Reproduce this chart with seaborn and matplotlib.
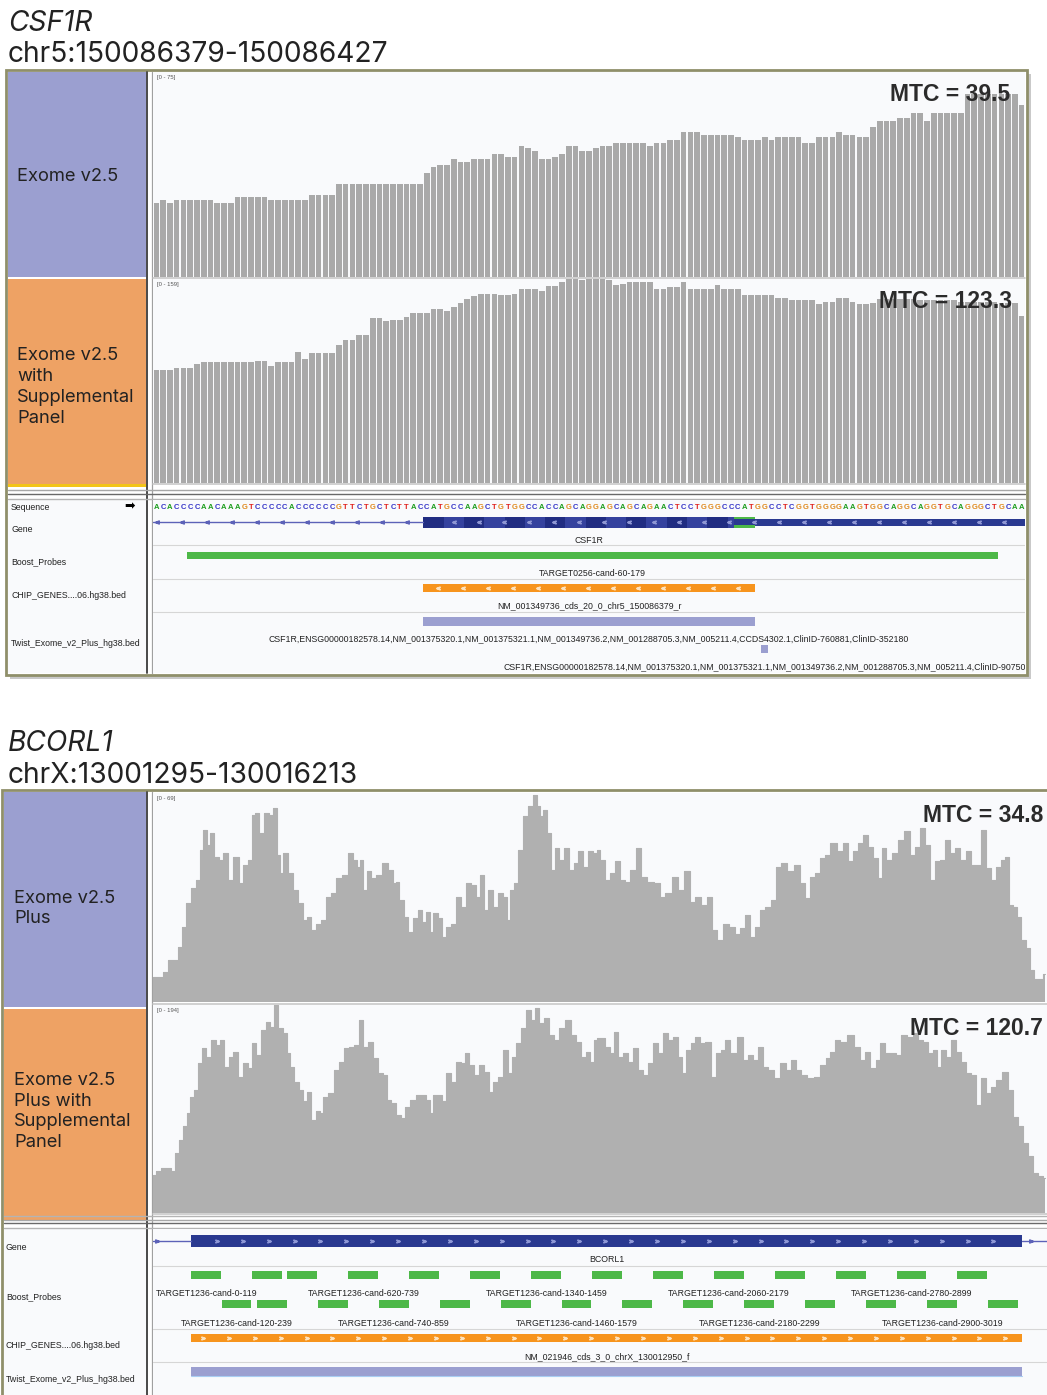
import numpy as np
import pandas as pd
import matplotlib
matplotlib.use("Agg")
import matplotlib.pyplot as plt
import matplotlib.font_manager as fm
from matplotlib.patches import Rectangle
import seaborn as sns

# ------------------------------------------------------------------ data
csf1r_title = "CSF1R"
csf1r_locus = "chr5:150086379-150086427"
csf1r_sequence = ("ACACCCCAACAAAGTCCCCCACCCCCCGTTCTGCTCTTACCATGCCAAGCTGTG"
                  "GCCACCAGCAGGAGCAGCAGAACTCCTGGGCCCATGGCCTCGGTGGGGAAGTGGCAGGCAGGTGCAGGGCTGCAA")
csf1r_exome = ([27, 28, 27] + [28] * 6 + [27] * 3 + [29] * 5 + [28] * 6 + [30] * 4 + [34] * 13 +
               [38, 40, 41, 41, 43, 42, 42, 43, 43, 43, 45, 45, 44, 44, 48, 47, 46, 43, 43, 44,
                45, 48, 48, 46, 46, 47, 48, 48] +
               [49] * 5 + [48, 49, 49, 50, 50] + [53] * 3 + [52] + [52] * 4 + [51] + [50] * 3 +
               [51, 50] + [51] * 4 + [49] * 2 + [51] * 3 + [53] + [52] * 2 + [51] * 2 + [55] +
               [57] * 3 + [58] * 2 + [60] * 2 + [57] + [60] * 5 + [67] * 8 + [63])
csf1r_exome_supp = ([88] * 3 + [89] * 3 + [92] + [94] * 8 + [95] * 2 + [91] + [94] * 3 + [102, 96] +
                    [101] * 4 + [107] + [111] * 2 + [115] * 2 + [128] * 2 + [126] + [127] * 2 + [129] +
                    [132] * 3 + [135] * 2 + [134, 137, 140, 143, 145] + [147] * 3 + [146] * 2 + [147] +
                    [151] * 3 + [149] + [153] * 2 + [156] + [159] * 2 + [158] + [159] * 3 + [158, 154, 155] +
                    [156] * 4 + [151] * 2 + [152] * 2 + [156] + [151] * 4 + [154] + [151] * 3 + [146] * 5 +
                    [144] * 2 + [142] * 4 + [139] + [141] * 2 + [144] * 2 + [141] + [139] * 2 + [140] +
                    [143] * 6 + [142] * 6 + [141] * 6 + [140] * 3 + [130])
csf1r_ymax = [75, 159]
csf1r_ranges = ["[0 - 75]", "[0 - 159]"]
csf1r_mtc = ["MTC = 39.5", "MTC = 123.3"]
csf1r_gene_name = "CSF1R"
csf1r_gene_intron = [0, 39]        # base indices in view
csf1r_gene_cds = [40, 88]
csf1r_gene_green = [86, 88]
csf1r_gene_utr = [89, 128]
csf1r_probe = [5, 124]
csf1r_probe_name = "TARGET0256-cand-60-179"
csf1r_chip = [40, 88]
csf1r_chip_name = "NM_001349736_cds_20_0_chr5_150086379_r"
csf1r_twist = [40, 88]
csf1r_twist_name = ("CSF1R,ENSG00000182578.14,NM_001375320.1,NM_001375321.1,NM_001349736.2,"
                    "NM_001288705.3,NM_005211.4,CCDS4302.1,ClinID-760881,ClinID-352180")
csf1r_twist2 = [90, 90]
csf1r_twist2_name = ("CSF1R,ENSG00000182578.14,NM_001375320.1,NM_001375321.1,NM_001349736.2,"
                     "NM_001288705.3,NM_005211.4,ClinID-90750")

bcorl1_title = "BCORL1"
bcorl1_locus = "chrX:13001295-130016213"
bcorl1_top_bins = [10, 30, 45, 60, 80, 90, 100, 115, 130, 145, 155, 165, 175, 185, 200, 215, 225, 240, 260, 275,
                   285, 300, 310, 320, 335, 350, 365, 375, 385, 395, 405, 420, 435, 450, 465, 475, 490, 505, 520, 535,
                   550, 565, 585, 600, 615, 625, 635, 645, 655, 670, 685, 705, 720, 735, 740, 755, 770, 780, 795, 810,
                   820, 835, 845, 855, 870, 880, 895, 910, 925, 940, 955, 970, 985, 995, 1010, 1020, 1035, 1050, 1065, 1075,
                   1085, 1100, 1110, 1125, 1140, 1155, 1165, 1175, 1185, 1195, 1210, 1220, 1235, 1250, 1265, 1280, 1290, 1305, 1320, 1340,
                   1341, 1356, 1371, 1386, 1401, 1416, 1431, 1451, 1466, 1481, 1501, 1521, 1536, 1556, 1576, 1591, 1611, 1626, 1646, 1661,
                   1681, 1691, 1711, 1726, 1746, 1761, 1776, 1791, 1806, 1821, 1836, 1856, 1871, 1886, 1901, 1921, 1941, 1956, 1971, 1986,
                   2001, 2016, 2031, 2051, 2071, 2086, 2101, 2116, 2131, 2146, 2161, 2176, 2191, 2201, 2216, 2236, 2251, 2271, 2286, 2301,
                   2316, 2331, 2346, 2361, 2381, 2391, 2406, 2421, 2441, 2456, 2471, 2486, 2501, 2516, 2531, 2546, 2561, 2571, 2581, 2596,
                   2606, 2621, 2636, 2646, 2656, 2671, 2686]
bcorl1_top = [8.3, 8.3, 9.9, 13.8, 13.8, 18.2, 24.8, 32.6, 37.5, 40.3, 50.2, 56.9, 51.9, 55.8, 48.0, 46.9, 49.1, 40.3, 48.0, 39.2,
              45.3, 46.9, 61.8, 62.4, 55.8, 62.4, 61.8, 64.0, 48.6, 42.5, 49.1, 42.5, 37.0, 32.6, 27.0, 28.2, 23.7, 25.9, 27.0, 34.8,
              35.9, 40.8, 42.0, 49.1, 46.9, 44.7, 46.9, 37.0, 43.1, 40.8, 42.0, 45.8, 43.6, 39.2, 39.7, 33.7, 28.2, 23.2, 27.6, 30.4,
              26.5, 29.8, 23.2, 29.3, 27.6, 21.5, 24.8, 25.9, 34.8, 31.5, 39.2, 38.6, 34.8, 42.0, 30.4, 37.0, 31.5, 35.9, 34.8, 27.0,
              37.0, 39.2, 50.2, 61.3, 64.6, 68.5, 64.6, 61.3, 63.5, 55.8, 43.6, 50.8, 46.9, 50.8, 43.6, 45.8, 49.7, 44.7, 49.7, 49.1,
              50.2, 46.9, 40.3, 42.5, 46.4, 40.3, 39.7, 43.6, 50.8, 41.4, 39.7, 39.2, 34.8, 35.9, 41.4, 37.0, 43.1, 33.1, 34.8, 32.0,
              34.8, 23.7, 20.4, 25.9, 24.8, 22.6, 24.3, 28.7, 21.5, 24.8, 30.4, 31.5, 33.7, 44.7, 45.8, 43.1, 45.3, 39.2, 34.2, 41.4,
              42.5, 47.5, 48.6, 52.4, 49.7, 52.4, 46.4, 49.7, 52.4, 55.2, 51.3, 47.5, 40.8, 50.8, 46.9, 49.1, 53.5, 56.3, 48.6, 51.3,
              57.4, 51.9, 40.3, 46.4, 46.9, 53.5, 49.1, 50.8, 46.9, 49.7, 45.3, 45.3, 56.9, 44.2, 40.3, 44.7, 46.9, 48.0, 32.0, 31.5,
              28.2, 20.4, 17.7, 10.5, 7.7, 7.7, 9.4]
bcorl1_bot_bins = [10, 25, 40, 55, 70, 80, 95, 105, 115, 125, 140, 150, 160, 175, 190, 205, 215, 230, 245, 255,
                   270, 285, 300, 310, 325, 340, 355, 365, 380, 390, 405, 415, 425, 440, 455, 465, 475, 490, 505, 515,
                   525, 545, 560, 575, 590, 605, 620, 635, 645, 660, 675, 690, 705, 715, 730, 745, 760, 770, 790, 805,
                   820, 835, 845, 855, 870, 880, 895, 910, 925, 940, 950, 965, 980, 995, 1010, 1025, 1035, 1050, 1065, 1080,
                   1090, 1105, 1120, 1135, 1150, 1160, 1175, 1190, 1205, 1220, 1235, 1255, 1270, 1285, 1300, 1315, 1325, 1340,
                   1341, 1356, 1371, 1386, 1396, 1411, 1426, 1441, 1456, 1471, 1486, 1501, 1516, 1531, 1546, 1561, 1576, 1591, 1601, 1616,
                   1631, 1641, 1656, 1676, 1691, 1706, 1721, 1731, 1751, 1771, 1786, 1801, 1816, 1831, 1846, 1861, 1881, 1901, 1916, 1931,
                   1946, 1961, 1981, 2001, 2021, 2036, 2046, 2061, 2081, 2101, 2121, 2136, 2151, 2171, 2186, 2196, 2216, 2231, 2246, 2261,
                   2281, 2296, 2311, 2326, 2341, 2356, 2366, 2381, 2396, 2411, 2426, 2441, 2456, 2471, 2486, 2501, 2516, 2531, 2546, 2566,
                   2581, 2596, 2611, 2626, 2641, 2656, 2671, 2686]
bcorl1_bot = [35.7, 38.8, 41.9, 41.9, 38.8, 55.9, 68.3, 80.7, 93.1, 108.6, 114.8, 139.7, 153.6, 145.9, 161.4, 156.8, 161.4, 136.6, 145.9, 150.5,
              127.3, 139.7, 135.0, 158.3, 147.4, 170.7, 178.5, 173.8, 194.0, 172.3, 167.6, 149.0, 136.6, 122.6, 114.8, 104.0, 113.3, 86.9, 94.7, 93.1,
              108.6, 111.7, 133.5, 141.2, 153.6, 155.2, 156.8, 180.0, 155.2, 159.9, 144.3, 130.4, 128.8, 105.5, 102.4, 91.6, 88.5, 99.3, 105.5, 110.2,
              110.2, 105.5, 93.1, 110.2, 110.2, 104.0, 130.4, 122.6, 141.2, 139.7, 149.0, 138.1, 128.8, 138.1, 131.9, 113.3, 122.6, 127.3, 152.1, 130.4,
              145.9, 158.3, 172.3, 189.3, 180.0, 190.9, 176.9, 181.6, 166.1, 161.4, 172.3, 180.0, 166.1, 159.9, 145.9, 150.5, 141.2, 161.4,
              163.0, 163.0, 155.2, 149.0, 169.2, 145.9, 149.0, 141.2, 153.6, 133.5, 128.8, 139.7, 158.3, 149.0, 167.6, 161.4, 164.5, 145.9, 130.4, 152.1,
              158.3, 164.5, 158.3, 159.9, 127.3, 149.0, 152.1, 161.4, 149.0, 164.5, 142.8, 147.4, 142.8, 155.2, 136.6, 133.5, 125.7, 139.7, 133.5, 142.8,
              133.5, 128.8, 125.7, 127.3, 138.1, 144.3, 150.5, 161.4, 159.9, 166.1, 155.2, 142.8, 150.5, 135.0, 142.8, 158.3, 149.0, 149.0, 147.4, 166.1,
              164.5, 167.6, 161.4, 159.9, 149.0, 152.1, 136.6, 152.1, 145.9, 161.4, 150.5, 141.2, 130.4, 128.8, 100.9, 125.7, 111.7, 117.9, 124.2, 131.9,
              114.8, 90.0, 80.7, 65.2, 52.8, 37.2, 34.1, 32.6]
bcorl1_bin_range = [9, 2691]
bcorl1_ymax = [69, 194]
bcorl1_ranges = ["[0 - 69]", "[0 - 194]"]
bcorl1_mtc = ["MTC = 34.8", "MTC = 120.7"]
bcorl1_view = [-150, 3373]          # target-offset coordinates of the feature view
bcorl1_gene_name = "BCORL1"
bcorl1_cds = [0, 3275]
bcorl1_probes_row1 = [0, 240, 380, 620, 860, 1100, 1340, 1580, 1820, 2060, 2300, 2540, 2780, 3020]
bcorl1_probes_row2 = [120, 260, 500, 740, 980, 1220, 1460, 1700, 1940, 2180, 2420, 2660, 2900, 3140]
bcorl1_labeled_row1 = [0, 620, 1340, 2060, 2780]
bcorl1_labeled_row2 = [120, 740, 1460, 2180, 2900]
bcorl1_probe_len = 120
bcorl1_chip = [0, 3275]
bcorl1_chip_name = "NM_021946_cds_3_0_chrX_130012950_f"
bcorl1_twist = [0, 3275]

track_names_1 = [["Exome v2.5"], ["Exome v2.5", "with", "Supplemental", "Panel"]]
track_names_2 = [["Exome v2.5", "Plus"], ["Exome v2.5", "Plus with", "Supplemental", "Panel"]]
feature_names = ["Sequence", "Gene", "Boost_Probes", "CHIP_GENES....06.hg38.bed", "Twist_Exome_v2_Plus_hg38.bed"]

# ------------------------------------------------------------------ style
sns.set_theme(style="white")
plt.rcParams["font.family"] = ["Liberation Sans", "DejaVu Sans"]
SANS = ["Inter", "DejaVu Sans"]


def pick_italic(cands):
    for fam in cands:
        for f in fm.fontManager.ttflist:
            if f.name == fam and f.style in ("italic", "oblique"):
                return [fam, "DejaVu Sans"]
    return ["DejaVu Sans"]


ITAL = pick_italic(["Inter", "Roboto", "Open Sans", "Lato", "Noto Sans", "DejaVu Sans"])

BAR = "#a9a9a9"
AREA = "#b0b0b0"
BG = "#f9fafc"
PURPLE = "#9b9fd0"
ORANGE_BLK = "#eea264"
OLIVE = "#8f8f6a"
NAVY = "#2a3990"
NAVY_D = "#212d82"
NAVY_L = "#35429e"
INTRON = "#5c62b8"
GREEN = "#4db848"
ORANGE = "#f7941d"
TXT = "#222222"
BASE_COL = {"A": "#1f9e1f", "C": "#3434c8", "G": "#e08a1e", "T": "#e0201c"}
FS_SMALL = 6.35
FS_LEFT = 13.2

W, H = 1047, 1395
fig = plt.figure(figsize=(W / 100, H / 100), dpi=100)
fig.patch.set_facecolor("white")


def add_ax(x0, y0, x1, y1, z=1, face=BG):
    ax = fig.add_axes([x0 / W, 1 - y1 / H, (x1 - x0) / W, (y1 - y0) / H], zorder=z)
    ax.set_facecolor(face)
    ax.set_xticks([])
    ax.set_yticks([])
    for s in ax.spines.values():
        s.set_visible(False)
    return ax


def ftext(x, y, s, **kw):
    kw.setdefault("zorder", 10)
    return fig.text(x / W, 1 - y / H, s, **kw)


bg = fig.add_axes([0, 0, 1, 1], zorder=0)
bg.set_xlim(0, W)
bg.set_ylim(H, 0)
bg.axis("off")


def rect(ax, x, y, w, h, **kw):
    ax.add_patch(Rectangle((x, y), w, h, **kw))


def clean(ax):
    ax.set_xlabel("")
    ax.set_ylabel("")
    ax.set_xticks([])
    ax.set_yticks([])
    leg = ax.get_legend()
    if leg:
        leg.remove()


def draw_bars(ax, values, ymax, rng):
    df = pd.DataFrame({"base": np.arange(len(values)), "depth": values})
    sns.barplot(data=df, x="base", y="depth", native_scale=True, color=BAR, saturation=1,
                width=0.84, errorbar=None, linewidth=0, ax=ax)
    ax.set_xlim(-0.5, len(values) - 0.5)
    ax.set_ylim(0, ymax)
    clean(ax)
    ax.text(0.005, 0.985, rng, transform=ax.transAxes, fontsize=4.2, color="#555", va="top")


def draw_area(ax, bins, values, ymax, rng, xr):
    df = pd.DataFrame({"bin": bins, "depth": values})
    ax.fill_between(df["bin"], df["depth"], step="mid", color=AREA, lw=0)
    sns.lineplot(data=df, x="bin", y="depth", drawstyle="steps-mid", color=AREA, lw=0.8,
                 estimator=None, ax=ax)
    ax.set_xlim(*xr)
    ax.set_ylim(0, ymax)
    clean(ax)
    ax.text(0.005, 0.985, rng, transform=ax.transAxes, fontsize=4.2, color="#555", va="top")


# ------------------------------------------------------------------ titles
ftext(8, 31, csf1r_title, fontsize=20.2, style="italic", family=ITAL, color=TXT)
ftext(8, 62, csf1r_locus, fontsize=20.3, family=SANS, color=TXT)
ftext(8, 751, bcorl1_title, fontsize=20.2, style="italic", family=ITAL, color=TXT)
ftext(8, 783, bcorl1_locus, fontsize=20.3, family=SANS, color=TXT)

# ------------------------------------------------------------------ panel 1 frame
rect(bg, 10, 74, 1021, 605, fc="#c9c9c9", ec="none")
rect(bg, 6, 70, 1021, 605, fc="white", ec=OLIVE, lw=2)
rect(bg, 8, 72, 138, 205, fc=PURPLE, ec="none")
rect(bg, 8, 279, 138, 205, fc=ORANGE_BLK, ec="none")
rect(bg, 8, 484, 138, 2.5, fc="#f2c418", ec="none")
rect(bg, 8, 500, 138, 173, fc=BG, ec="none")
bg.plot([146.5, 146.5], [72, 673], color="#3a3a3a", lw=1.3)
bg.plot([151.5, 151.5], [72, 673], color="#a0a0a0", lw=0.9)
for yy, cc in [(490, "#a8a8a8"), (494, "#6a6a6a"), (498.5, "#b4b4b4")]:
    bg.plot([8, 1025], [yy, yy], color=cc, lw=1)
bg.plot([153, 1025], [277.5, 277.5], color="#c8c8c8", lw=1.2)
bg.plot([153, 1025], [483.5, 483.5], color="#c8c8c8", lw=1.2)

bg.text(17, 181, track_names_1[0][0], fontsize=FS_LEFT, family=SANS, color=TXT)
for i, line in enumerate(track_names_1[1]):
    bg.text(17, 360 + 21 * i, line, fontsize=FS_LEFT, family=SANS, color=TXT)

for name, yy in zip(feature_names, [508, 530, 562, 595, 643]):
    bg.text(11, yy, name, fontsize=6.3, color=TXT, va="center")
bg.text(130, 507, "\u27a1", fontsize=9, color="black", ha="center", va="center", family=["DejaVu Sans"])

# ------------------------------------------------------------------ panel 1 data
ax1 = add_ax(153, 72, 1025, 276.5)
draw_bars(ax1, csf1r_exome, csf1r_ymax[0], csf1r_ranges[0])
ax2 = add_ax(153, 278.5, 1025, 482.5)
draw_bars(ax2, csf1r_exome_supp, csf1r_ymax[1], csf1r_ranges[1])
ftext(1010, 101, csf1r_mtc[0], fontsize=16.5, fontweight="bold", color="#2b2b2b", ha="right")
ftext(1012, 308, csf1r_mtc[1], fontsize=16.5, fontweight="bold", color="#2b2b2b", ha="right")

axf = add_ax(153, 500, 1025, 673)
n = len(csf1r_sequence)
axf.set_xlim(-0.5, n - 0.5)
axf.set_ylim(673, 500)
for yy in [545, 578.5, 612]:
    axf.axhline(yy, color="#d6d6d6", lw=0.8)
for i, ch in enumerate(csf1r_sequence):
    axf.text(i, 507.5, ch, color=BASE_COL[ch], fontsize=5.5, fontweight="bold", ha="center", va="center")

# gene
axf.plot([-0.5, csf1r_gene_intron[1] + 0.5], [522, 522], color=INTRON, lw=1)
ix = np.arange(0.1, csf1r_gene_intron[1], 3.7)
axf.plot(ix, np.full(len(ix), 522), ls="none", marker="$<$", ms=2.6, color=INTRON)
c0, c1 = csf1r_gene_cds
for k, s in enumerate(range(c0, c1 + 1, 3)):
    e = min(s + 3, c1 + 1)
    rect(axf, s - 0.5, 516.5, e - s, 11, fc=NAVY_D if k % 2 == 0 else NAVY_L, ec="none")
g0, g1 = csf1r_gene_green
rect(axf, g0 - 0.5, 516.5, g1 - g0 + 1, 11, fc=GREEN, ec="none")
rect(axf, g0 - 0.5, 519, g1 - g0 + 1, 6, fc=NAVY, ec="none")
u0, u1 = csf1r_gene_utr
rect(axf, u0 - 0.5, 518.5, u1 - u0 + 1, 7, fc=NAVY, ec="none")
cx = np.arange(c0 + 4.0, u1, 3.7)
axf.plot(cx, np.full(len(cx), 522), ls="none", marker="$<$", ms=2.4, color="#8f97d4")
axf.text((csf1r_gene_intron[0] + csf1r_gene_utr[1]) / 2, 540, csf1r_gene_name, fontsize=FS_SMALL,
         color=TXT, ha="center", va="center")

# boost probe
p0, p1 = csf1r_probe
rect(axf, p0 - 0.5, 552, p1 - p0 + 1, 7, fc=GREEN, ec="none")
axf.text((p0 + p1) / 2, 573, csf1r_probe_name, fontsize=FS_SMALL, color=TXT, ha="center", va="center")

# chip genes
h0, h1 = csf1r_chip
rect(axf, h0 - 0.5, 584, h1 - h0 + 1, 8, fc=ORANGE, ec="none")
hx = np.arange(h0 + 1.6, h1, 3.7)
axf.plot(hx, np.full(len(hx), 588), ls="none", marker="$<$", ms=2.4, color="#fde2bd")
axf.text((h0 + h1) / 2, 606, csf1r_chip_name, fontsize=FS_SMALL, color=TXT, ha="center", va="center")

# twist
t0, t1 = csf1r_twist
rect(axf, t0 - 0.5, 617, t1 - t0 + 1, 9, fc=PURPLE, ec="none")
axf.text((t0 + t1) / 2, 639, csf1r_twist_name, fontsize=FS_SMALL, color=TXT, ha="center", va="center")
s0, s1 = csf1r_twist2
rect(axf, s0 - 0.5, 645, s1 - s0 + 1, 8, fc=PURPLE, ec="none")
axf.text((s0 + s1) / 2, 667, csf1r_twist2_name, fontsize=FS_SMALL, color=TXT, ha="center", va="center",
         clip_on=True)

# ------------------------------------------------------------------ panel 2 frame
rect(bg, 2, 790, 1060, 620, fc="white", ec=OLIVE, lw=2)
rect(bg, 4, 792, 142, 215, fc=PURPLE, ec="none")
rect(bg, 4, 1009, 142, 211, fc=ORANGE_BLK, ec="none")
rect(bg, 4, 1229, 142, 170, fc=BG, ec="none")
bg.plot([146.5, 146.5], [792, 1395], color="#3a3a3a", lw=1.3)
bg.plot([151.5, 151.5], [792, 1395], color="#a0a0a0", lw=0.9)
for yy, cc in [(1216, "#b4b4b4"), (1219.5, "#a8a8a8"), (1223, "#6a6a6a"), (1227.5, "#b4b4b4")]:
    bg.plot([4, 1047], [yy, yy], color=cc, lw=1)
bg.plot([153, 1047], [1003.5, 1003.5], color="#c8c8c8", lw=1.2)
bg.plot([153, 1047], [1214, 1214], color="#c8c8c8", lw=1.2)

for i, line in enumerate(track_names_2[0]):
    bg.text(14, 903 + 20 * i, line, fontsize=FS_LEFT, family=SANS, color=TXT)
for i, line in enumerate(track_names_2[1]):
    bg.text(14, 1085 + 20.7 * i, line, fontsize=FS_LEFT, family=SANS, color=TXT)
for name, yy in zip(feature_names[1:], [1248, 1297, 1345, 1379]):
    bg.text(6, yy, name, fontsize=6.3, color=TXT, va="center")

# ------------------------------------------------------------------ panel 2 data
ax3 = add_ax(153, 793, 1047, 1002)
draw_area(ax3, bcorl1_top_bins, bcorl1_top, bcorl1_ymax[0], bcorl1_ranges[0], bcorl1_bin_range)
ax4 = add_ax(153, 1005, 1047, 1213)
draw_area(ax4, bcorl1_bot_bins, bcorl1_bot, bcorl1_ymax[1], bcorl1_ranges[1], bcorl1_bin_range)
ftext(1043, 822, bcorl1_mtc[0], fontsize=16.5, fontweight="bold", color="#2b2b2b", ha="right")
ftext(1043, 1035, bcorl1_mtc[1], fontsize=16.5, fontweight="bold", color="#2b2b2b", ha="right")

axg = add_ax(153, 1229, 1047, 1395)
axg.set_xlim(*bcorl1_view)
axg.set_ylim(1395, 1229)
for yy in [1265.5, 1328.5, 1362]:
    axg.axhline(yy, color="#d6d6d6", lw=0.8)
b0, b1 = bcorl1_cds
axg.plot([bcorl1_view[0], b0], [1241, 1241], color=INTRON, lw=1)
axg.plot([b1, bcorl1_view[1]], [1241, 1241], color=INTRON, lw=1)
axg.plot([bcorl1_view[0] + 15, b1 + 35], [1241, 1241], ls="none", marker="$>$", ms=2.6, color=INTRON)
rect(axg, b0, 1235, b1 - b0, 12, fc=NAVY, ec="none")
gx = np.arange(b0 + 102, b1 - 40, 102)
axg.plot(gx, np.full(len(gx), 1241), ls="none", marker="$>$", ms=2.4, color="#8e97d6")
axg.text((b0 + b1) / 2, 1259, bcorl1_gene_name, fontsize=FS_SMALL, color=TXT, ha="center", va="center")

for s in bcorl1_probes_row1:
    rect(axg, s, 1271, bcorl1_probe_len - 2, 8, fc=GREEN, ec="none")
for s in bcorl1_probes_row2:
    rect(axg, s, 1300, bcorl1_probe_len - 2, 8, fc=GREEN, ec="none")
for s in bcorl1_labeled_row1:
    axg.text(s + bcorl1_probe_len / 2, 1293, f"TARGET1236-cand-{s}-{s + bcorl1_probe_len - 1}",
             fontsize=FS_SMALL, color=TXT, ha="center", va="center")
for s in bcorl1_labeled_row2:
    axg.text(s + bcorl1_probe_len / 2, 1323, f"TARGET1236-cand-{s}-{s + bcorl1_probe_len - 1}",
             fontsize=FS_SMALL, color=TXT, ha="center", va="center")

k0, k1 = bcorl1_chip
rect(axg, k0, 1334, k1 - k0, 8, fc=ORANGE, ec="none")
kx = np.arange(k0 + 47, k1 - 40, 102)
axg.plot(kx, np.full(len(kx), 1338), ls="none", marker="$>$", ms=2.4, color="#fde2bd")
axg.text((k0 + k1) / 2, 1357, bcorl1_chip_name, fontsize=FS_SMALL, color=TXT, ha="center", va="center")

w0, w1 = bcorl1_twist
rect(axg, w0, 1367, w1 - w0, 9, fc=PURPLE, ec="none")
axg.plot([w0, w1], [1376, 1376], color="#a9cdf2", lw=0.8)

fig.savefig("out.png", dpi=100, facecolor="white")
